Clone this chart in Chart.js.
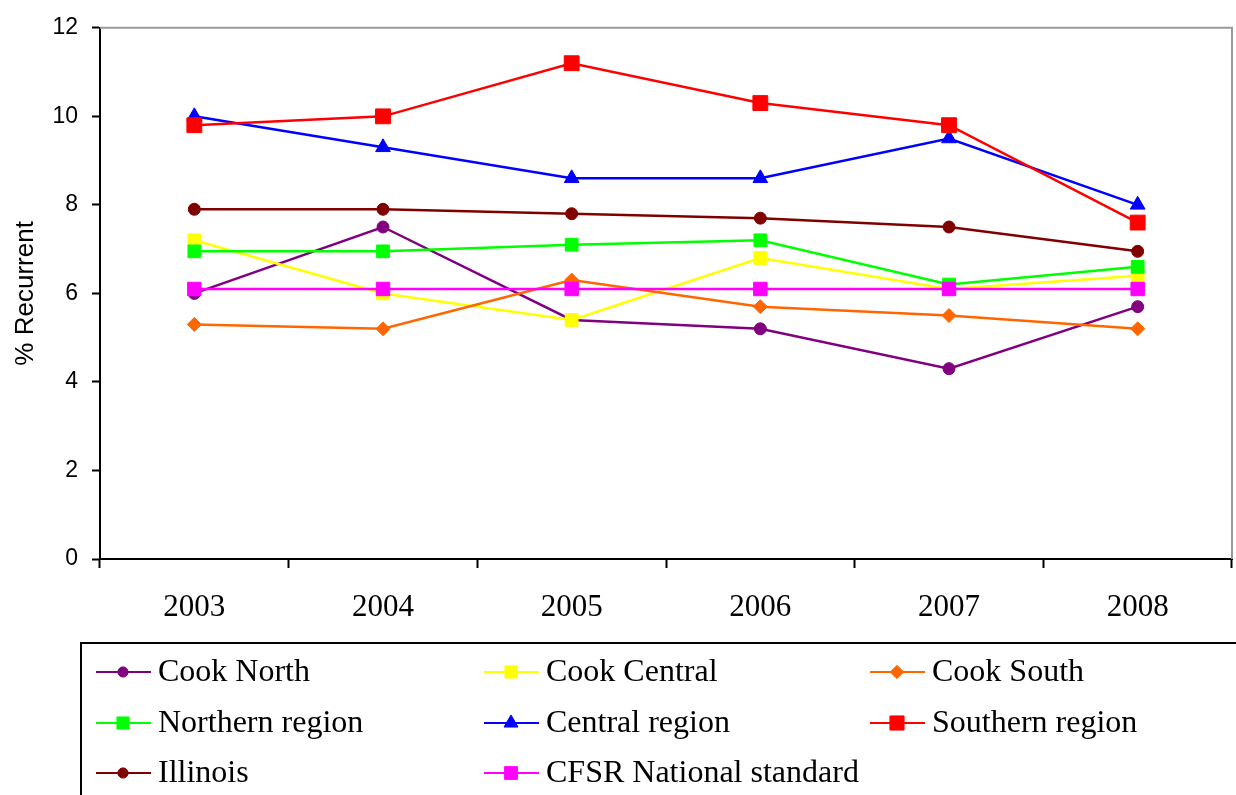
<!DOCTYPE html>
<html>
<head>
<meta charset="utf-8">
<title>% Recurrent 2003-2008</title>
<script src="https://cdn.jsdelivr.net/npm/chart.js@4.4.1/dist/chart.umd.min.js"></script>
<style>
  html, body { margin: 0; padding: 0; background: #fff; }
  #wrap { width: 1236px; height: 795px; position: relative; }
</style>
</head>
<body>
<div id="wrap"><canvas id="recurrenceChart"></canvas></div>
<script>
// data
const years = ['2003', '2004', '2005', '2006', '2007', '2008'];
const cookNorth = [6.0, 7.5, 5.4, 5.2, 4.3, 5.7];
const cookCentral = [7.2, 6.0, 5.4, 6.8, 6.1, 6.4];
const cookSouth = [5.3, 5.2, 6.3, 5.7, 5.5, 5.2];
const northernRegion = [6.95, 6.95, 7.1, 7.2, 6.2, 6.6];
const centralRegion = [10.0, 9.3, 8.6, 8.6, 9.5, 8.0];
const southernRegion = [9.8, 10.0, 11.2, 10.3, 9.8, 7.6];
const illinois = [7.9, 7.9, 7.8, 7.7, 7.5, 6.95];
const cfsrStandard = [6.1, 6.1, 6.1, 6.1, 6.1, 6.1];
const yTicks = [0, 2, 4, 6, 8, 10, 12];

// series: label, values, colour, marker, marker radius
const series = [
    ['Cook North', cookNorth, '#800080', 'circle', 6],
    ['Cook Central', cookCentral, '#FFFF00', 'rect', 9],
    ['Cook South', cookSouth, '#FF6600', 'rectRot', 7],
    ['Northern region', northernRegion, '#00FF00', 'rect', 9],
    ['Central region', centralRegion, '#0000FF', 'triangle', 8.5],
    ['Southern region', southernRegion, '#FF0000', 'rect', 10.5],
    ['Illinois', illinois, '#800000', 'circle', 6],
    ['CFSR National standard', cfsrStandard, '#FF00FF', 'rect', 9.5]
];

const serif = '"Liberation Serif", "Times New Roman", serif';
const sans = '"Liberation Sans", Arial, sans-serif';

// grey frame on top and right of the plot area
const frameLines = {
    id: 'frameLines',
    beforeDatasetsDraw(chart) {
        const ctx = chart.ctx;
        const a = chart.chartArea;
        ctx.save();
        ctx.strokeStyle = '#999999';
        ctx.lineWidth = 2;
        ctx.beginPath();
        ctx.moveTo(a.left, a.top);
        ctx.lineTo(a.right, a.top);
        ctx.lineTo(a.right, a.bottom);
        ctx.stroke();
        ctx.restore();
    }
};

// legend box under the axis, three columns
const boxLegend = {
    id: 'boxLegend',
    afterDraw(chart) {
        const ctx = chart.ctx;
        const colX = [96, 484, 870];
        const rowY = [672, 723, 773];
        ctx.save();
        ctx.strokeStyle = '#000';
        ctx.lineWidth = 2;
        ctx.strokeRect(81, 643, 1170, 170);
        ctx.font = '32px ' + serif;
        ctx.textBaseline = 'middle';
        ctx.fillStyle = '#000';
        chart.data.datasets.forEach(function (ds, i) {
            const x = colX[i % 3];
            const y = rowY[Math.floor(i / 3)];
            ctx.strokeStyle = ds.borderColor;
            ctx.lineWidth = 2;
            ctx.beginPath();
            ctx.moveTo(x, y);
            ctx.lineTo(x + 55, y);
            ctx.stroke();
            ctx.fillStyle = ds.pointBackgroundColor;
            ctx.strokeStyle = ds.pointBorderColor;
            ctx.lineWidth = 1;
            // legend markers a bit smaller than the plot ones
            const r = ds.pointStyle === 'circle' ? ds.pointRadius * 0.85 : ds.pointRadius * 0.95;
            Chart.helpers.drawPoint(ctx, {
                pointStyle: ds.pointStyle,
                radius: r,
                rotation: 0,
                borderWidth: 1
            }, x + 27, y);
            ctx.fillStyle = '#000';
            ctx.fillText(ds.label, x + 62, y + 1);
        });
        ctx.restore();
    }
};

function initRecurrenceChart() {
    const ctx = document.getElementById('recurrenceChart').getContext('2d');
    const datasets = series.map(function (s, i) {
        return {
            label: s[0],
            data: s[1],
            borderColor: s[2],
            backgroundColor: s[2],
            pointBackgroundColor: s[2],
            pointBorderColor: s[2],
            pointStyle: s[3],
            pointRadius: s[4],
            pointHoverRadius: s[4],
            pointBorderWidth: 1,
            borderWidth: 2.5,
            tension: 0,
            order: series.length - 1 - i   // later series on top, like the original
        };
    });

    new Chart(ctx, {
        type: 'line',
        data: { labels: years, datasets: datasets },
        options: {
            responsive: false,
            animation: false,
            layout: { autoPadding: false, padding: { top: 27, right: 4, left: 0, bottom: 0 } },
            plugins: {
                legend: { display: false },
                tooltip: { enabled: false }
            },
            scales: {
                x: {
                    offset: true,
                    grid: {
                        offset: true,
                        drawOnChartArea: false,
                        tickLength: 9,
                        tickColor: '#000',
                        tickWidth: 2
                    },
                    border: { color: '#000', width: 2 },
                    ticks: {
                        color: '#000',
                        font: { family: serif, size: 31 },
                        padding: 21,
                        maxRotation: 0
                    },
                    afterFit: function (scale) {
                        scale.height = 236;
                        // no extra side padding from the tick labels
                        scale.paddingLeft = 0;
                        scale.paddingRight = 0;
                    }
                },
                y: {
                    min: 0,
                    max: 12,
                    afterBuildTicks: function (scale) {
                        scale.ticks = yTicks.map(function (v) { return { value: v }; });
                    },
                    grid: {
                        drawOnChartArea: false,
                        tickLength: 8,
                        tickColor: '#000',
                        tickWidth: 2
                    },
                    border: { color: '#000', width: 2 },
                    ticks: {
                        color: '#000',
                        font: { family: sans, size: 23 },
                        padding: 14
                    },
                    title: {
                        display: true,
                        text: '% Recurrent',
                        color: '#000',
                        font: { family: sans, size: 26 },
                        padding: { top: 10, bottom: 0 }
                    },
                    afterFit: function (scale) { scale.width = 100; }
                }
            }
        },
        plugins: [frameLines, boxLegend]
    });
}

window.onload = () => {
    const c = document.getElementById('recurrenceChart');
    c.width = 1236;
    c.height = 795;
    initRecurrenceChart();
};
</script>
</body>
</html>
